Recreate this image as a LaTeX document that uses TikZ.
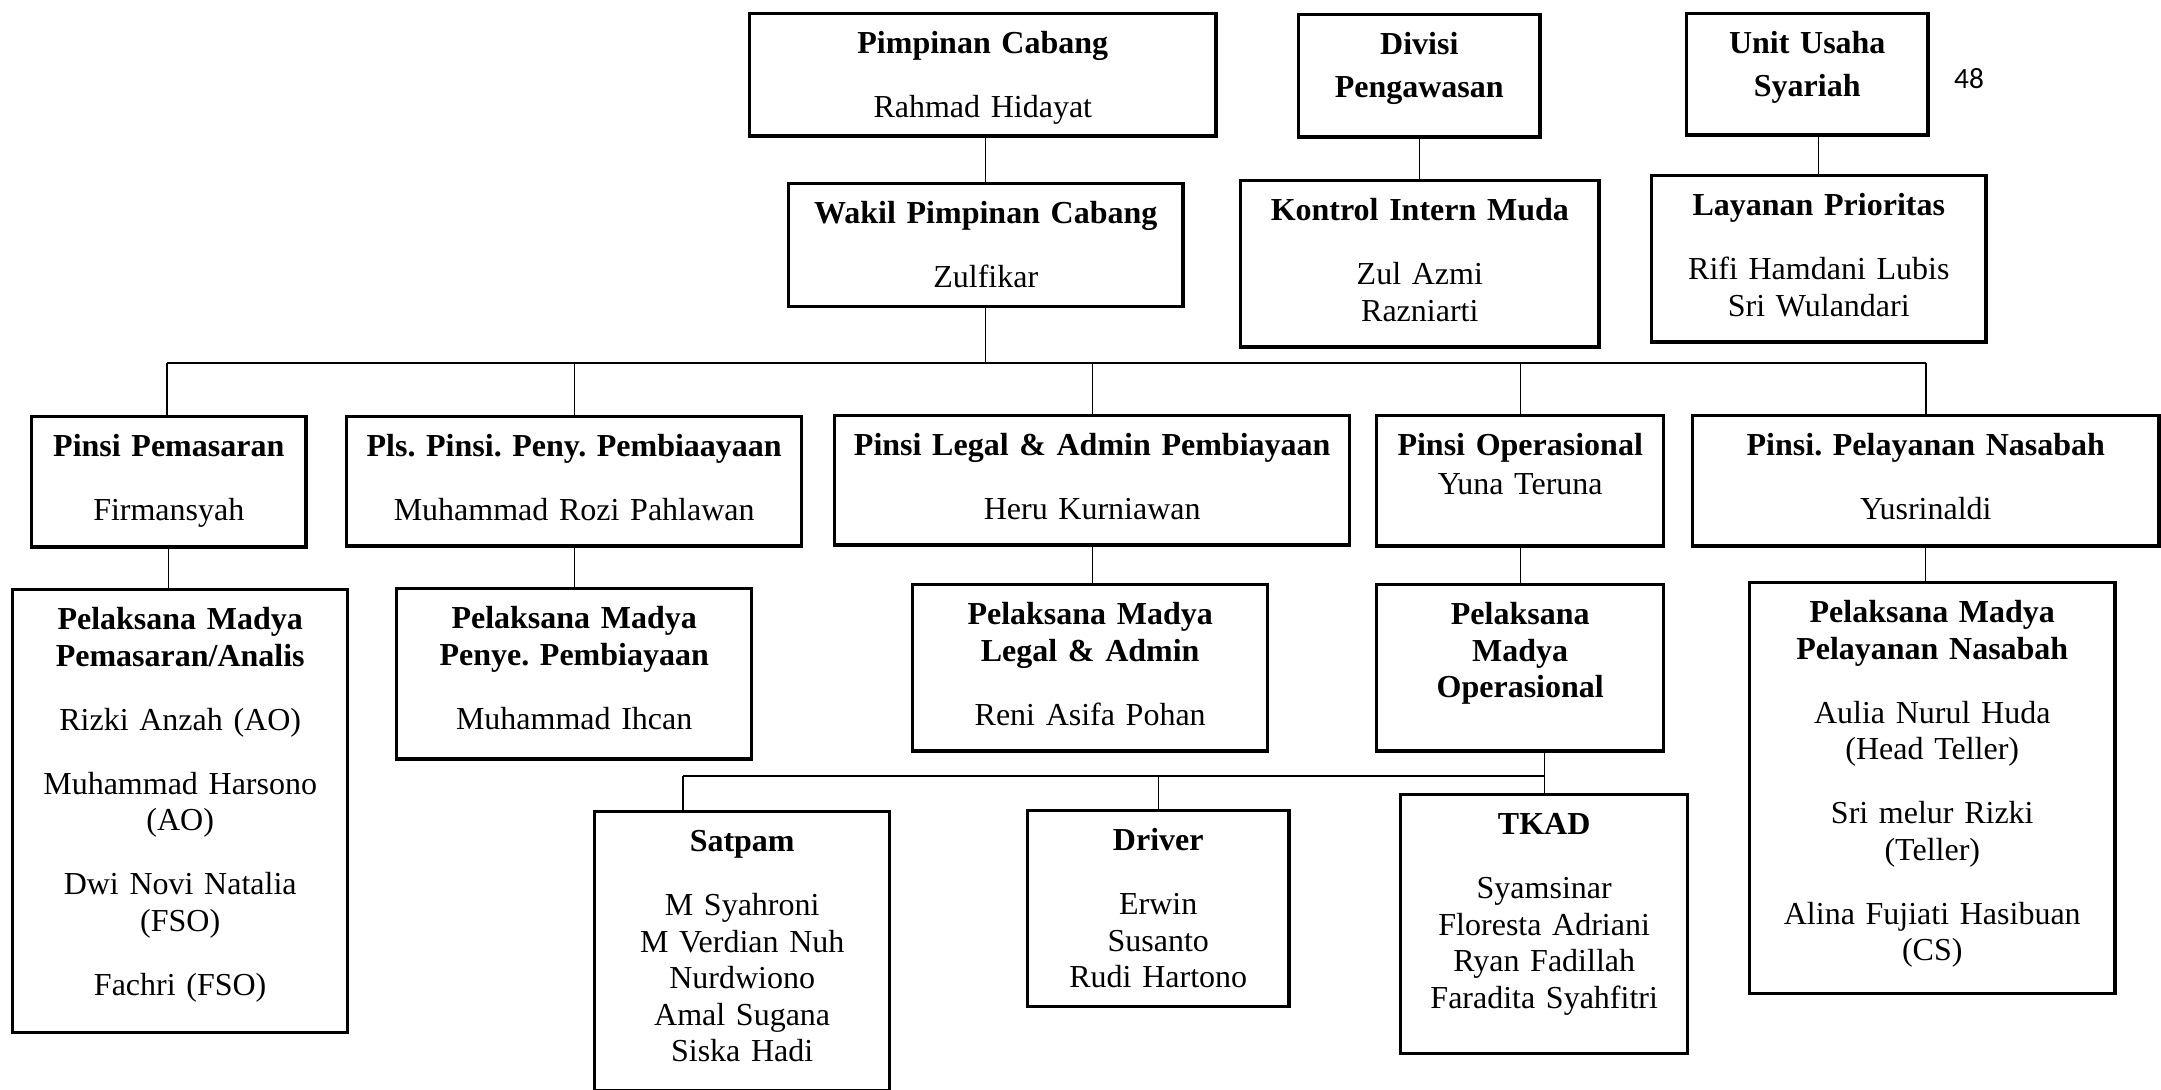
\documentclass[tikz,border=0pt]{standalone}
\usepackage{fontspec}
\setmainfont{Liberation Serif}
\newfontfamily\pagefont{Carlito}
\usetikzlibrary{calc}
\frenchspacing
\tikzset{
  jabatan/.style 2 args={draw, line width=1.3pt, anchor=north west,
    inner sep=0pt, align=center, text width=#1, text height=15pt,
    text depth=#2, font=\fontsize{12}{13.7}\selectfont},
  garis/.style={line width=0.5pt},
}
\newcommand{\gap}{\\[10.3pt]}

\begin{document}
\begin{tikzpicture}[x=0.375pt,y=-0.375pt]
\useasboundingbox (0,0) rectangle (2161,1090);
% pimpinan
\node[jabatan={174.8pt}{30.8pt}] (pimpinan) at (748,12)
  {\textbf{Pimpinan Cabang}\gap Rahmad Hidayat};
\node[jabatan={90.4pt}{30.8pt}] (divisi) at (1297,13)
  {\textbf{Divisi}\\[2.4pt]\textbf{Pengawasan}};
\node[jabatan={90.4pt}{30.4pt}] (unit) at (1685,12)
  {\textbf{Unit Usaha}\\[2.4pt]\textbf{Syariah}};
\node[font=\pagefont\fontsize{11}{13}\selectfont] (hal) at (1969,79) {48};
\node[jabatan={147.8pt}{31.1pt}] (wakil) at (787,182)
  {\textbf{Wakil Pimpinan Cabang}\gap Zulfikar};
\node[jabatan={134.3pt}{47.3pt}] (kontrol) at (1239,179)
  {\textbf{Kontrol Intern Muda}\gap Zul Azmi\\ Razniarti};
\node[jabatan={125.3pt}{47.3pt}] (layanan) at (1650,174)
  {\textbf{Layanan Prioritas}\gap Rifi Hamdani Lubis\\ Sri Wulandari};
% pinsi
\node[jabatan={102.8pt}{33.8pt}] (pemasaran) at (30,415)
  {\textbf{Pinsi Pemasaran}\gap Firmansyah};
\node[jabatan={170.6pt}{33.4pt}] (pls) at (345,415)
  {\textbf{Pls. Pinsi. Peny. Pembiaayaan}\gap Muhammad Rozi Pahlawan};
\node[jabatan={193.1pt}{33.4pt}] (legal) at (833,414)
  {\textbf{Pinsi Legal \& Admin Pembiayaan}\gap Heru Kurniawan};
\node[jabatan={107.6pt}{33.8pt}] (operasional) at (1375,414)
  {\textbf{Pinsi Operasional}\\[0.9pt] Yuna Teruna};
\node[jabatan={174.8pt}{33.8pt}] (pelayanan) at (1691,414)
  {\textbf{Pinsi. Pelayanan Nasabah}\gap Yusrinaldi};
% pelaksana madya
\node[jabatan={125.6pt}{151.1pt}] (pmpemasaran) at (11,588)
  {\textbf{Pelaksana Madya}\\ \textbf{Pemasaran/Analis}\gap Rizki Anzah (AO)\gap
   Muhammad Harsono\\ (AO)\gap Dwi Novi Natalia\\ (FSO)\gap Fachri (FSO)};
\node[jabatan={133.1pt}{48.8pt}] (pmpenye) at (395,587)
  {\textbf{Pelaksana Madya}\\ \textbf{Penye. Pembiayaan}\gap Muhammad Ihcan};
\node[jabatan={133.1pt}{47.3pt}] (pmlegal) at (911,583)
  {\textbf{Pelaksana Madya}\\ \textbf{Legal \& Admin}\gap Reni Asifa Pohan};
\node[jabatan={107.6pt}{47.3pt}] (pmops) at (1375,583)
  {\textbf{Pelaksana}\\ \textbf{Madya}\\ \textbf{Operasional}};
\node[jabatan={136.9pt}{139.1pt}] (pmlayan) at (1748,581)
  {\textbf{Pelaksana Madya}\\ \textbf{Pelayanan Nasabah}\gap Aulia Nurul Huda\\ (Head Teller)\gap
   Sri melur Rizki\\ (Teller)\gap Alina Fujiati Hasibuan\\ (CS)};
% staf
\node[jabatan={110.6pt}{89.6pt}] (satpam) at (593,810)
  {\textbf{Satpam}\gap M Syahroni\\ M Verdian Nuh\\ Nurdwiono\\ Amal Sugana\\ Siska Hadi};
\node[jabatan={97.9pt}{58.5pt}] (driver) at (1026,809)
  {\textbf{Driver}\gap Erwin\\ Susanto\\ Rudi Hartono};
\node[jabatan={107.6pt}{82.1pt}] (tkad) at (1399,793)
  {\textbf{TKAD}\gap Syamsinar\\ Floresta Adriani\\ Ryan Fadillah\\ Faradita Syahfitri};

\coordinate (busL) at (167,363);
\coordinate (busR) at (1926,363);
\coordinate (subL) at (683,776);

\draw[garis] (wakil.north) -- (wakil.north |- pimpinan.south);
\draw[garis] (kontrol.north) -- (kontrol.north |- divisi.south);
\draw[garis] (layanan.north) -- (layanan.north |- unit.south);
\draw[garis] (wakil.south) -- (wakil.south |- busL);
\draw[line width=0.8pt] (busL) -- (busR);
\draw[garis] (busL) -- (busL |- pemasaran.north);
\draw[garis] (pls.north) -- (pls.north |- busL);
\draw[garis] (legal.north) -- (legal.north |- busL);
\draw[garis] (operasional.north) -- (operasional.north |- busL);
\draw[garis] (busR) -- (busR |- pelayanan.north);
\draw[garis] (pemasaran.south) -- (pemasaran.south |- pmpemasaran.north);
\draw[garis] (pls.south) -- (pls.south |- pmpenye.north);
\draw[garis] (legal.south) -- (legal.south |- pmlegal.north);
\draw[garis] (operasional.south) -- (pmops.north);
\draw[garis] (pelayanan.south) -- (pelayanan.south |- pmlayan.north);
\draw[garis] (tkad.north |- pmops.south) -- (tkad.north);
\draw[garis] (subL) -- (tkad.north |- subL);
\draw[garis] (subL) -- (subL |- satpam.north);
\draw[garis] (driver.north) -- (driver.north |- subL);
\end{tikzpicture}
\end{document}
